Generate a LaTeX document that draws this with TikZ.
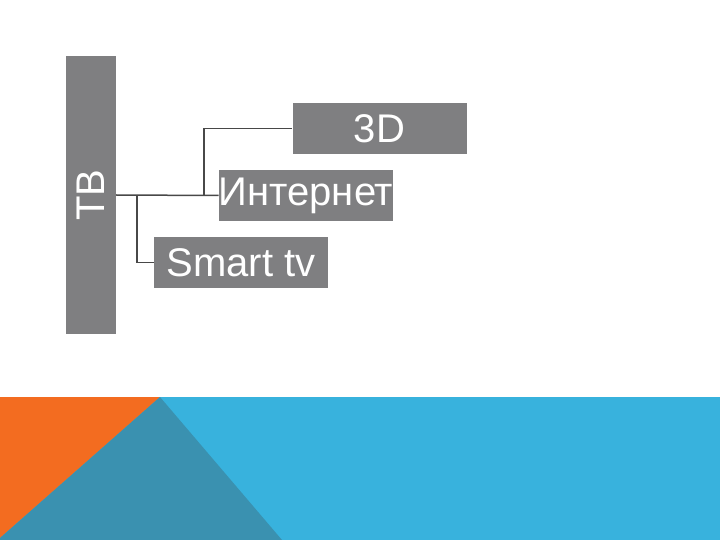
\documentclass[tikz,border=0pt]{standalone}
\usepackage{fontspec}
\setmainfont{Liberation Sans}
\usetikzlibrary{calc}
\definecolor{boxgrey}{RGB}{127,127,129}
\definecolor{linegrey}{RGB}{72,72,72}
\definecolor{bandblue}{RGB}{56,178,221}
\definecolor{bandteal}{RGB}{58,145,176}
\definecolor{bandorange}{RGB}{243,108,32}
\begin{document}
\begin{tikzpicture}[x=1pt,y=-1pt]
	\tikzstyle{item} = [rectangle, fill=boxgrey, text=white, inner sep=0pt, minimum width=174pt, minimum height=51pt, font=\fontsize{40}{48}\selectfont]
	\tikzstyle{root} = [item, minimum width=278pt, minimum height=50pt, rotate=90]
	\tikzstyle{connector} = [draw=linegrey, line width=1.5pt]
\fill [white] (0,0) rectangle (720,540);
% bottom band
\fill [bandblue] (0,397) rectangle (720,540);
\fill [bandorange] (0,397) -- (160,397) -- (0,538) -- cycle;
\fill [bandteal] (160,397) -- (282,540) -- (0,540) -- (0,538) -- cycle;
% nodes
\node [root] at (91,195) (tv) {ТВ};
\node [item] at (379.5,128.5) (d3) {3D};
\node [item] at (306,195.5) (inet) {Интернет};
\node [item] at (241,262.5) (smart) {Smart tv};
\coordinate (j1) at (137,195);
\coordinate (j2) at (204,195);
\path [connector] (tv.south) -- (inet.west);
\path [connector] (j1) |- (smart.west);
\path [connector] (j2) |- (d3.west);
\end{tikzpicture}
\end{document}
